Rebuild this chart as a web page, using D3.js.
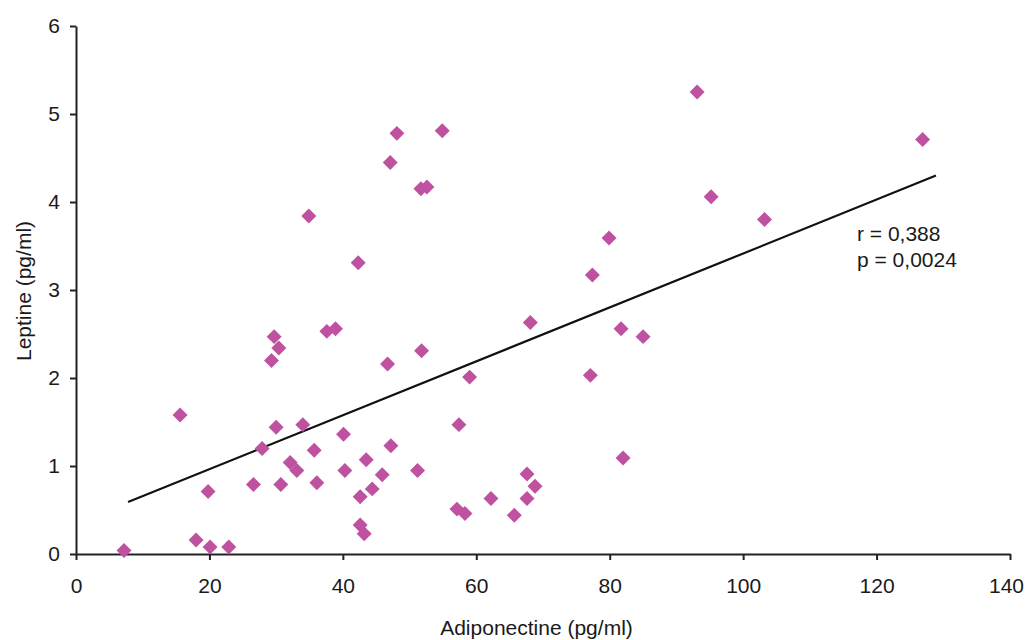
<!DOCTYPE html>
<html>
<head>
<meta charset="utf-8">
<script src="https://cdn.jsdelivr.net/npm/d3@7"></script>
<style>
  html, body { margin: 0; padding: 0; background: #fff; }
  svg { display: block; }
  text { font-family: "Liberation Sans", Arial, sans-serif; fill: #1a1a1a; }
</style>
</head>
<body>
<svg id="chart" width="1026" height="640"></svg>
<script>
// Data
const adiponectine = [7.2, 15.6, 18.0, 19.8, 20.1, 22.9, 26.6, 27.9, 29.3, 29.7, 30.4, 30.0, 30.7, 32.1, 33.1, 34.0,
  34.9, 35.7, 36.1, 37.6, 38.9, 40.1, 40.3, 42.3, 42.6, 42.6, 43.2, 43.5, 44.4, 45.9, 46.7, 47.1, 47.2, 48.1,
  51.2, 51.8, 51.7, 52.6, 54.9, 57.1, 57.4, 58.3, 59.0, 62.2, 65.7, 67.6, 67.6, 68.1, 68.8, 77.1, 77.4, 79.9,
  81.7, 82.0, 85.0, 93.1, 95.2, 103.2, 126.9];
const leptine = [0.04, 1.58, 0.16, 0.71, 0.08, 0.08, 0.79, 1.20, 2.20, 2.47, 2.34, 1.44, 0.79, 1.04, 0.95, 1.47,
  3.84, 1.18, 0.81, 2.53, 2.56, 1.36, 0.95, 3.31, 0.65, 0.33, 0.23, 1.07, 0.74, 0.90, 2.16, 4.45, 1.23, 4.78,
  0.95, 2.31, 4.15, 4.17, 4.81, 0.51, 1.47, 0.46, 2.01, 0.63, 0.44, 0.91, 0.63, 2.63, 0.77, 2.03, 3.17, 3.59,
  2.56, 1.09, 2.47, 5.25, 4.06, 3.80, 4.71];
const trendX = [7.8, 128.9];
const trendY = [0.59, 4.30];
const xTicks = [0, 20, 40, 60, 80, 100, 120, 140];
const yTicks = [0, 1, 2, 3, 4, 5, 6];
const annotations = ["r = 0,388", "p = 0,0024"];
const xTitle = "Adiponectine (pg/ml)";
const yTitle = "Leptine (pg/ml)";

const svg = d3.select("#chart");
const x = d3.scaleLinear().domain([0, 140]).range([76, 1010]);
const y = d3.scaleLinear().domain([0, 6]).range([554, 26]);

const axisColor = "#222";
const fontSize = 21;

// X axis
const gx = svg.append("g").attr("transform", `translate(0,${y(0)})`)
  .call(d3.axisBottom(x).tickValues(xTicks).tickSize(6).tickSizeOuter(0).tickPadding(18).tickFormat(d3.format("d")));
gx.select(".domain").attr("stroke", axisColor).attr("stroke-width", 2);
gx.selectAll(".tick line").attr("stroke", axisColor).attr("stroke-width", 2);
gx.selectAll(".tick text").attr("font-size", fontSize).attr("font-family", "Liberation Sans, Arial, sans-serif").attr("fill", "#1a1a1a")
  .attr("dx", d => d === 140 ? -4 : 0);

// Y axis
const gy = svg.append("g").attr("transform", `translate(${x(0)},0)`)
  .call(d3.axisLeft(y).tickValues(yTicks).tickSize(6).tickSizeOuter(0).tickPadding(10).tickFormat(d3.format("d")));
gy.select(".domain").attr("stroke", axisColor).attr("stroke-width", 2);
gy.selectAll(".tick line").attr("stroke", axisColor).attr("stroke-width", 2);
gy.selectAll(".tick text").attr("font-size", fontSize).attr("font-family", "Liberation Sans, Arial, sans-serif").attr("fill", "#1a1a1a");

// Trend line
svg.append("line")
  .attr("x1", x(trendX[0])).attr("y1", y(trendY[0]))
  .attr("x2", x(trendX[1])).attr("y2", y(trendY[1]))
  .attr("stroke", "#111").attr("stroke-width", 2.2);

// Points (diamonds)
const diamond = d3.symbol().type(d3.symbolSquare).size(112);
svg.append("g").selectAll("path")
  .data(adiponectine.map((a, i) => [a, leptine[i]]))
  .join("path")
  .attr("d", diamond)
  .attr("transform", d => `translate(${x(d[0])},${y(d[1])}) rotate(45)`)
  .attr("fill", "#bf52a0");

// Annotation
svg.append("g").selectAll("text")
  .data(annotations)
  .join("text")
  .attr("x", 857)
  .attr("y", (d, i) => 241 + i * 25.7)
  .attr("font-size", fontSize)
  .text(d => d);

// Axis titles
svg.append("text")
  .attr("x", 536.5).attr("y", 635)
  .attr("text-anchor", "middle")
  .attr("font-size", fontSize)
  .text(xTitle);

svg.append("text")
  .attr("transform", "translate(31,291) rotate(-90)")
  .attr("text-anchor", "middle")
  .attr("font-size", fontSize)
  .text(yTitle);
</script>
</body>
</html>
